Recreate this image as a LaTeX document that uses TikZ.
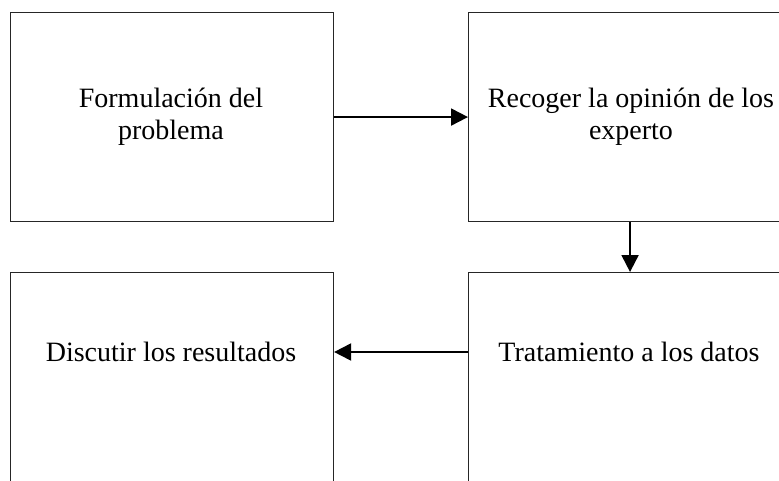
\documentclass[tikz,border=0pt]{standalone}
\usepackage{fontspec}
\setmainfont{Liberation Serif}
\usetikzlibrary{arrows.meta}
\begin{document}
\begin{tikzpicture}[x=1pt,y=-1pt,
  boxnode/.style={draw=black!85,line width=1.1pt,minimum width=323pt,minimum height=209pt,inner sep=0pt,anchor=north west},
  lbl/.style={font=\fontsize{28}{32}\selectfont,align=center,inner sep=0pt},
  arr/.style={line width=2pt,-{Triangle[length=17pt,width=17pt]}}]
\useasboundingbox (0,0) rectangle (779,480);
\clip (0,0) rectangle (779,480);
\fill[white] (0,0) rectangle (779,480);
\node[boxnode] (A) at (10,12) {};
\node[boxnode] (B) at (468,12) {};
\node[boxnode] (C) at (10,272) {};
\node[boxnode] (D) at (468,272) {};
\node[lbl] (At) at (171,117) {Formulación del\\problema};
\node[lbl] (Bt) at (631,117) {Recoger la opinión de los\\experto};
\node[lbl] (Ct) at (171,352) {Discutir los resultados};
\node[lbl] (Dt) at (629,352) {Tratamiento a los datos};
\draw[arr] (A.east) -- (B.west);
\draw[arr] (B.south) -- (D.north);
\draw[arr] (D.west |- Ct) -- (C.east |- Ct);
\end{tikzpicture}
\end{document}
